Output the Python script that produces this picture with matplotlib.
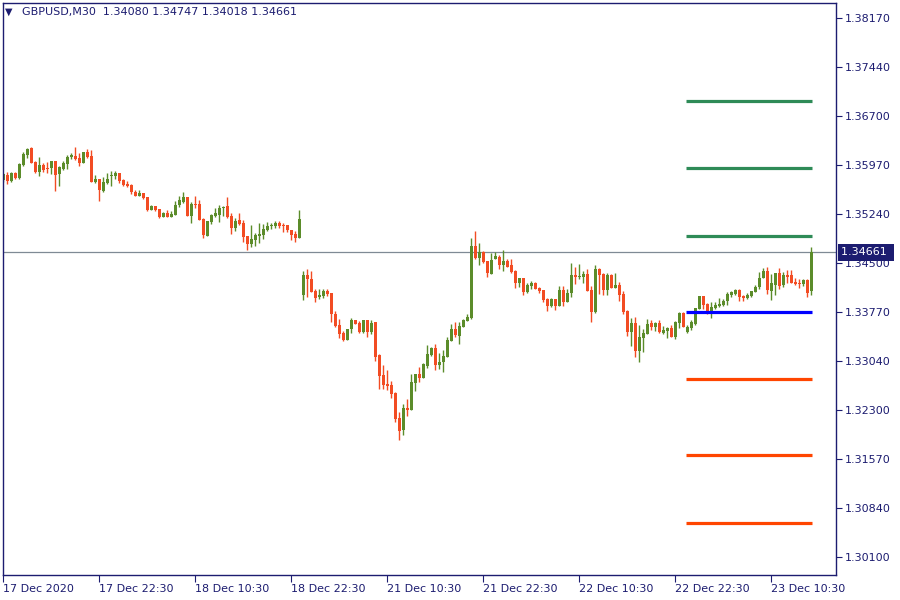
import numpy as np
import matplotlib
matplotlib.use("Agg")
import matplotlib.pyplot as plt
import matplotlib.transforms as mtransforms

# GBPUSD M30 bars, 17 Dec 2020 10:30 onwards
opens = [
    1.3574, 1.3582, 1.3573, 1.3585, 1.3577, 1.3597, 1.3612, 1.3622, 1.3601, 1.3586,
    1.3597, 1.3592, 1.3592, 1.3603, 1.3583, 1.3591, 1.3598, 1.3609, 1.3610, 1.3607,
    1.3600, 1.3616, 1.3610, 1.3571, 1.3576, 1.3558, 1.3570, 1.3580, 1.3580, 1.3585,
    1.3574, 1.3568, 1.3567, 1.3556, 1.3550, 1.3555, 1.3549, 1.3530, 1.3535, 1.3531,
    1.3519, 1.3525, 1.3519, 1.3522, 1.3537, 1.3541, 1.3549, 1.3521, 1.3538, 1.3538,
    1.3516, 1.3491, 1.3512, 1.3521, 1.3522, 1.3533, 1.3535, 1.3521, 1.3503, 1.3515,
    1.3510, 1.3491, 1.3479, 1.3485, 1.3491, 1.3492, 1.3500, 1.3506, 1.3506, 1.3510,
    1.3507, 1.3507, 1.3500, 1.3494, 1.3488, 1.3402, 1.3432, 1.3426, 1.3408, 1.3399,
    1.3401, 1.3408, 1.3405, 1.3374, 1.3357, 1.3345, 1.3335, 1.3351, 1.3365, 1.3360,
    1.3347, 1.3365, 1.3347, 1.3362, 1.3312, 1.3282, 1.3269, 1.3268, 1.3256, 1.3218,
    1.3200, 1.3233, 1.3230, 1.3271, 1.3284, 1.3278, 1.3296, 1.3312, 1.3323, 1.3297,
    1.3302, 1.3309, 1.3333, 1.3351, 1.3341, 1.3354, 1.3363, 1.3368, 1.3476, 1.3458,
    1.3467, 1.3453, 1.3434, 1.3456, 1.3459, 1.3447, 1.3453, 1.3447, 1.3438, 1.3420,
    1.3428, 1.3407, 1.3416, 1.3420, 1.3413, 1.3410, 1.3396, 1.3386, 1.3396, 1.3386,
    1.3410, 1.3392, 1.3405, 1.3432, 1.3429, 1.3429, 1.3434, 1.3410, 1.3377, 1.3441,
    1.3434, 1.3410, 1.3432, 1.3413, 1.3417, 1.3404, 1.3378, 1.3347, 1.3360, 1.3318,
    1.3338, 1.3344, 1.3360, 1.3354, 1.3360, 1.3345, 1.3348, 1.3353, 1.3339, 1.3360,
    1.3375, 1.3347, 1.3353, 1.3359, 1.3381, 1.3401, 1.3389, 1.3374, 1.3383, 1.3386,
    1.3387, 1.3393, 1.3402, 1.3404, 1.3410, 1.3401, 1.3398, 1.3401, 1.3407, 1.3414,
    1.3428, 1.3438, 1.3408, 1.3417, 1.3435, 1.3417, 1.3432, 1.3432, 1.3422, 1.3420,
    1.3419, 1.3425, 1.34080]
highs = [
    1.3585, 1.3586, 1.3586, 1.3586, 1.3600, 1.3616, 1.3622, 1.3624, 1.3603, 1.3609,
    1.3600, 1.3601, 1.3603, 1.3603, 1.3595, 1.3603, 1.3612, 1.3615, 1.3624, 1.3615,
    1.3616, 1.3621, 1.3619, 1.3582, 1.3576, 1.3579, 1.3585, 1.3588, 1.3588, 1.3585,
    1.3576, 1.3573, 1.3568, 1.3559, 1.3559, 1.3555, 1.3549, 1.3537, 1.3535, 1.3531,
    1.3527, 1.3530, 1.3528, 1.3543, 1.3550, 1.3556, 1.3549, 1.3541, 1.3550, 1.3545,
    1.3518, 1.3513, 1.3524, 1.3532, 1.3537, 1.3535, 1.3549, 1.3525, 1.3518, 1.3525,
    1.3515, 1.3491, 1.3507, 1.3495, 1.3510, 1.3509, 1.3512, 1.3510, 1.3513, 1.3513,
    1.3510, 1.3507, 1.3500, 1.3498, 1.3530, 1.3438, 1.3441, 1.3438, 1.3411, 1.3411,
    1.3411, 1.3411, 1.3405, 1.3378, 1.3366, 1.3348, 1.3351, 1.3368, 1.3365, 1.3363,
    1.3365, 1.3365, 1.3365, 1.3362, 1.3314, 1.3297, 1.3290, 1.3274, 1.3257, 1.3227,
    1.3239, 1.3247, 1.3284, 1.3284, 1.3294, 1.3300, 1.3327, 1.3324, 1.3329, 1.3315,
    1.3320, 1.3339, 1.3359, 1.3362, 1.3362, 1.3366, 1.3374, 1.3488, 1.3498, 1.3480,
    1.3468, 1.3453, 1.3465, 1.3467, 1.3462, 1.3470, 1.3456, 1.3456, 1.3440, 1.3428,
    1.3428, 1.3420, 1.3423, 1.3422, 1.3414, 1.3410, 1.3398, 1.3398, 1.3396, 1.3416,
    1.3416, 1.3411, 1.3450, 1.3444, 1.3449, 1.3438, 1.3441, 1.3416, 1.3447, 1.3443,
    1.3435, 1.3435, 1.3434, 1.3435, 1.3422, 1.3408, 1.3380, 1.3368, 1.3369, 1.3357,
    1.3351, 1.3366, 1.3365, 1.3362, 1.3365, 1.3356, 1.3354, 1.3357, 1.3363, 1.3377,
    1.3377, 1.3357, 1.3365, 1.3383, 1.3401, 1.3401, 1.3390, 1.3392, 1.3392, 1.3398,
    1.3396, 1.3407, 1.3408, 1.3411, 1.3411, 1.3402, 1.3405, 1.3408, 1.3417, 1.3437,
    1.3443, 1.3444, 1.3434, 1.3435, 1.3443, 1.3437, 1.3440, 1.3440, 1.3428, 1.3426,
    1.3426, 1.3426, 1.34747]
lows = [
    1.3571, 1.3568, 1.3571, 1.3576, 1.3576, 1.3595, 1.3607, 1.3600, 1.3585, 1.3580,
    1.3586, 1.3585, 1.3583, 1.3558, 1.3565, 1.3589, 1.3591, 1.3606, 1.3604, 1.3595,
    1.3600, 1.3607, 1.3571, 1.3570, 1.3543, 1.3556, 1.3568, 1.3565, 1.3576, 1.3570,
    1.3565, 1.3564, 1.3553, 1.3550, 1.3550, 1.3546, 1.3528, 1.3530, 1.3528, 1.3518,
    1.3519, 1.3519, 1.3519, 1.3522, 1.3534, 1.3540, 1.3521, 1.3510, 1.3532, 1.3515,
    1.3488, 1.3491, 1.3509, 1.3519, 1.3512, 1.3521, 1.3518, 1.3494, 1.3498, 1.3507,
    1.3482, 1.3470, 1.3474, 1.3476, 1.3480, 1.3486, 1.3498, 1.3501, 1.3503, 1.3503,
    1.3497, 1.3497, 1.3485, 1.3482, 1.3488, 1.3395, 1.3399, 1.3407, 1.3392, 1.3396,
    1.3398, 1.3401, 1.3362, 1.3354, 1.3338, 1.3333, 1.3335, 1.3345, 1.3359, 1.3345,
    1.3345, 1.3339, 1.3344, 1.3303, 1.3262, 1.3262, 1.3260, 1.3248, 1.3212, 1.3185,
    1.3193, 1.3221, 1.3230, 1.3259, 1.3272, 1.3278, 1.3293, 1.3311, 1.3290, 1.3291,
    1.3287, 1.3309, 1.3333, 1.3339, 1.3329, 1.3354, 1.3363, 1.3366, 1.3456, 1.3447,
    1.3450, 1.3429, 1.3434, 1.3456, 1.3441, 1.3438, 1.3444, 1.3435, 1.3413, 1.3414,
    1.3402, 1.3405, 1.3411, 1.3411, 1.3405, 1.3392, 1.3378, 1.3384, 1.3380, 1.3386,
    1.3386, 1.3392, 1.3399, 1.3419, 1.3426, 1.3420, 1.3408, 1.3362, 1.3375, 1.3404,
    1.3402, 1.3402, 1.3413, 1.3413, 1.3393, 1.3374, 1.3341, 1.3326, 1.3309, 1.3302,
    1.3317, 1.3344, 1.3350, 1.3348, 1.3345, 1.3344, 1.3338, 1.3339, 1.3336, 1.3353,
    1.3354, 1.3345, 1.3350, 1.3357, 1.3381, 1.3381, 1.3374, 1.3368, 1.3381, 1.3384,
    1.3386, 1.3387, 1.3399, 1.3402, 1.3393, 1.3393, 1.3396, 1.3399, 1.3407, 1.3411,
    1.3428, 1.3404, 1.3395, 1.3402, 1.3411, 1.3414, 1.3420, 1.3420, 1.3417, 1.3413,
    1.3416, 1.3399, 1.34018]
closes = [
    1.3583, 1.3573, 1.3585, 1.3577, 1.3598, 1.3613, 1.3621, 1.3600, 1.3586, 1.3597,
    1.3589, 1.3591, 1.3603, 1.3582, 1.3594, 1.3600, 1.3609, 1.3612, 1.3606, 1.3600,
    1.3616, 1.3609, 1.3571, 1.3576, 1.3559, 1.3571, 1.3576, 1.3582, 1.3585, 1.3573,
    1.3567, 1.3565, 1.3556, 1.3550, 1.3555, 1.3547, 1.3530, 1.3535, 1.3530, 1.3519,
    1.3525, 1.3519, 1.3524, 1.3537, 1.3545, 1.3549, 1.3521, 1.3538, 1.3537, 1.3515,
    1.3492, 1.3513, 1.3522, 1.3525, 1.3532, 1.3534, 1.3519, 1.3503, 1.3513, 1.3509,
    1.3489, 1.3479, 1.3486, 1.3492, 1.3494, 1.3501, 1.3506, 1.3507, 1.3510, 1.3506,
    1.3506, 1.3500, 1.3492, 1.3488, 1.3516, 1.3432, 1.3426, 1.3407, 1.3398, 1.3402,
    1.3408, 1.3404, 1.3374, 1.3356, 1.3344, 1.3335, 1.3351, 1.3365, 1.3359, 1.3347,
    1.3365, 1.3347, 1.3360, 1.3309, 1.3281, 1.3268, 1.3266, 1.3254, 1.3217, 1.3199,
    1.3233, 1.3230, 1.3272, 1.3284, 1.3278, 1.3299, 1.3314, 1.3323, 1.3297, 1.3302,
    1.3311, 1.3335, 1.3351, 1.3342, 1.3356, 1.3365, 1.3369, 1.3476, 1.3458, 1.3467,
    1.3452, 1.3435, 1.3455, 1.3461, 1.3447, 1.3453, 1.3444, 1.3437, 1.3420, 1.3428,
    1.3407, 1.3417, 1.3420, 1.3411, 1.3408, 1.3395, 1.3386, 1.3396, 1.3386, 1.3410,
    1.3392, 1.3405, 1.3432, 1.3429, 1.3431, 1.3434, 1.3408, 1.3377, 1.3441, 1.3432,
    1.3410, 1.3432, 1.3413, 1.3417, 1.3402, 1.3377, 1.3347, 1.3360, 1.3318, 1.3339,
    1.3345, 1.3359, 1.3354, 1.3360, 1.3347, 1.3350, 1.3353, 1.3339, 1.3362, 1.3375,
    1.3354, 1.3354, 1.3362, 1.3383, 1.3401, 1.3387, 1.3374, 1.3384, 1.3387, 1.3389,
    1.3393, 1.3404, 1.3407, 1.3410, 1.3399, 1.3398, 1.3402, 1.3408, 1.3414, 1.3428,
    1.3438, 1.3410, 1.3420, 1.3435, 1.3416, 1.3432, 1.3429, 1.3420, 1.3419, 1.3419,
    1.3425, 1.3405, 1.34661]

# pivot levels drawn for the current day
resistance = [1.3693, 1.3592, 1.3491]
pivot = 1.3377
support = [1.3277, 1.3163, 1.3061]
level_start, level_end = 170.6, 202.3

time_labels = ["17 Dec 2020", "17 Dec 22:30", "18 Dec 10:30", "18 Dec 22:30",
               "21 Dec 10:30", "21 Dec 22:30", "22 Dec 10:30", "22 Dec 22:30",
               "23 Dec 10:30"]
time_bars = [0, 24, 48, 72, 96, 120, 144, 168, 192]

price_ticks = [1.38170, 1.37440, 1.36700, 1.35970, 1.35240, 1.34500,
               1.33770, 1.33040, 1.32300, 1.31570, 1.30840, 1.30100]

navy = "#1c1c70"
bull = "#5b8c2a"
bear = "#f24c23"

o = np.array(opens); h = np.array(highs); l = np.array(lows); c = np.array(closes)
x = np.arange(len(o))
up = c >= o
cols = np.where(up, bull, bear)

fig = plt.figure(figsize=(9, 6), dpi=100)
ax = fig.add_axes([3/900, 25/600, 833/900, 572/600])

# wicks and bodies
ax.vlines(x, l, h, colors=cols, linewidth=1.0)
body = np.maximum(np.abs(c - o), 0.00008)
ax.bar(x, body, bottom=np.minimum(o, c), width=0.78, color=cols, linewidth=0)

# bid line
ax.axhline(c[-1], color="#7f8a95", linewidth=0.9, zorder=0)

for lev in resistance:
    ax.hlines(lev, level_start, level_end, color="#2e8b57", linewidth=2.3)
ax.hlines(pivot, level_start, level_end, color="#0000ff", linewidth=2.3)
for lev in support:
    ax.hlines(lev, level_start, level_end, color="#ff4500", linewidth=2.3)

ax.set_xlim(-0.075, 208.2)
ax.set_ylim(1.29831, 1.38394)

ax.yaxis.tick_right()
ax.set_yticks(price_ticks, ["%.5f" % t for t in price_ticks])
ax.set_xticks(time_bars, time_labels)
for lab in ax.get_xticklabels():
    lab.set_ha("left")
ax.tick_params(axis="y", direction="out", length=4, width=0.8, color=navy,
               labelcolor=navy, labelsize=8, pad=2)
ax.tick_params(axis="x", direction="out", length=5, width=0.8, color=navy,
               labelcolor=navy, labelsize=8, pad=1.5)
for s in ax.spines.values():
    s.set_color(navy)
    s.set_linewidth(1)

# current price box on the right scale
trans = mtransforms.blended_transform_factory(ax.transAxes, ax.transData)
ax.text(1.006, c[-1], "%.5f " % c[-1], transform=trans, color="white", fontsize=8,
        va="center", ha="left", zorder=5,
        bbox=dict(boxstyle="square,pad=0.3", fc=navy, ec="none"))

fig.text(5/900, 1 - 12/600, "\u25bc", color=navy, fontsize=7, va="center")
fig.text(22/900, 1 - 12/600, "GBPUSD,M30  %.5f %.5f %.5f %.5f" % (o[-1], h[-1], l[-1], c[-1]),
         color=navy, fontsize=8, va="center")

fig.savefig("out.png", dpi=100)
